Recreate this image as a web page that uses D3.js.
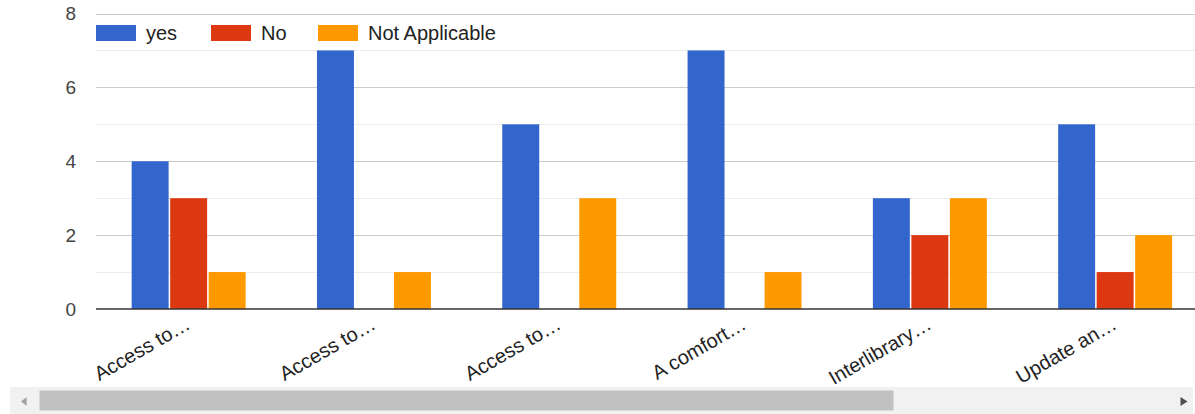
<!DOCTYPE html>
<html>
<head>
<meta charset="utf-8">
<script src="https://cdn.jsdelivr.net/npm/d3@7"></script>
<style>
	body { margin: 0; background: #fff; }
	#chart text { font-family: Arial, "Liberation Sans", sans-serif; }
</style>
</head>
<body>
<div id="chart"></div>
<script>
// 数据
var categories = ["Access to\u2026", "Access to\u2026", "Access to\u2026", "A comfort\u2026", "Interlibrary\u2026", "Update an\u2026"];
var seriesNames = ["yes", "No", "Not Applicable"];
var yesValues = [4, 7, 5, 7, 3, 5];
var noValues = [3, 0, 0, 0, 2, 1];
var naValues = [1, 1, 3, 1, 3, 2];
var seriesColors = ["#3366cc", "#dc3912", "#ff9900"];
var yTicks = [0, 2, 4, 6, 8];
var yMinorTicks = [1, 3, 5, 7];

var W = 1195, H = 414;
var plotLeft = 96, plotTop = 13.5, plotBottom = 309; // 绘图区边界（top是window保留名，不能用）
var groupStep = 185.3;

var svg = d3.select("#chart").append("svg").attr("width", W).attr("height", H);

var y = d3.scaleLinear().domain([0, 8]).range([plotBottom, plotTop]);
var x0 = d3.scaleBand().domain(d3.range(categories.length))
		.range([plotLeft, plotLeft + groupStep * categories.length])
		.paddingInner(0.385).paddingOuter(0.1925);
var x1 = d3.scaleBand().domain(seriesNames).range([0, x0.bandwidth()])
		.paddingInner(0.04);

// 网格线
svg.append("g").selectAll("line").data(yMinorTicks).enter().append("line")
		.attr("x1", plotLeft).attr("x2", W)
		.attr("y1", function(d) { return Math.round(y(d)) + 0.5; })
		.attr("y2", function(d) { return Math.round(y(d)) + 0.5; })
		.attr("stroke", "#ebebeb").attr("stroke-width", 1);
svg.append("g").selectAll("line").data(yTicks.filter(function(d) { return d > 0; })).enter().append("line")
		.attr("x1", plotLeft).attr("x2", W)
		.attr("y1", function(d) { return Math.round(y(d)) + 0.5; })
		.attr("y2", function(d) { return Math.round(y(d)) + 0.5; })
		.attr("stroke", "#cccccc").attr("stroke-width", 1);

// y轴刻度文字
svg.append("g").selectAll("text").data(yTicks).enter().append("text")
		.attr("x", 76).attr("y", function(d) { return y(d); })
		.attr("dy", "0.36em").attr("text-anchor", "end")
		.attr("font-size", 19).attr("fill", "#444")
		.text(function(d) { return d; });

// 柱子
var rows = categories.map(function(c, i) {
	return [yesValues[i], noValues[i], naValues[i]];
});
var groups = svg.append("g").selectAll("g").data(rows).enter().append("g")
		.attr("transform", function(d, i) { return "translate(" + x0(i) + ",0)"; });
groups.selectAll("rect").data(function(d) {
	return d.map(function(v, k) { return { key: seriesNames[k], value: v, k: k }; })
			.filter(function(e) { return e.value > 0; });
}).enter().append("rect")
		.attr("x", function(d) { return x1(d.key); })
		.attr("y", function(d) { return y(d.value); })
		.attr("width", x1.bandwidth())
		.attr("height", function(d) { return y(0) - y(d.value); })
		.attr("fill", function(d) { return seriesColors[d.k]; });

// 基线
svg.append("line").attr("x1", plotLeft).attr("x2", W)
		.attr("y1", plotBottom).attr("y2", plotBottom)
		.attr("stroke", "#333").attr("stroke-width", 1.5);

// x轴标签，倾斜30度
svg.append("g").selectAll("text").data(categories).enter().append("text")
		.attr("transform", function(d, i) {
			return "translate(" + (x0(i) + x0.bandwidth() / 2 + 3) + "," + 328 + ") rotate(-30)";
		})
		.attr("text-anchor", "end").attr("font-size", 20).attr("fill", "#222")
		.text(function(d) { return d; });

// 图例
var legendX = [96, 211, 318];
var legend = svg.append("g").selectAll("g").data(seriesNames).enter().append("g")
		.attr("transform", function(d, i) { return "translate(" + legendX[i] + ",25)"; });
legend.append("rect").attr("width", 40).attr("height", 16)
		.attr("fill", function(d, i) { return seriesColors[i]; });
legend.append("text").attr("x", 50).attr("y", 8).attr("dy", "0.36em")
		.attr("font-size", 20).attr("fill", "#222")
		.text(function(d) { return d; });

// 滚动条
var sb = svg.append("g");
sb.append("rect").attr("x", 10).attr("y", 387).attr("width", 1183).attr("height", 27).attr("fill", "#f1f1f1");
sb.append("rect").attr("x", 39.5).attr("y", 390.5).attr("width", 854).attr("height", 20).attr("fill", "#c1c1c1");
sb.append("path").attr("d", "M21,401.5L26.7,397L26.7,406Z").attr("fill", "#a3a3a3");
sb.append("path").attr("d", "M1187.5,401.5L1180.5,397L1180.5,406Z").attr("fill", "#505050");
</script>
</body>
</html>
